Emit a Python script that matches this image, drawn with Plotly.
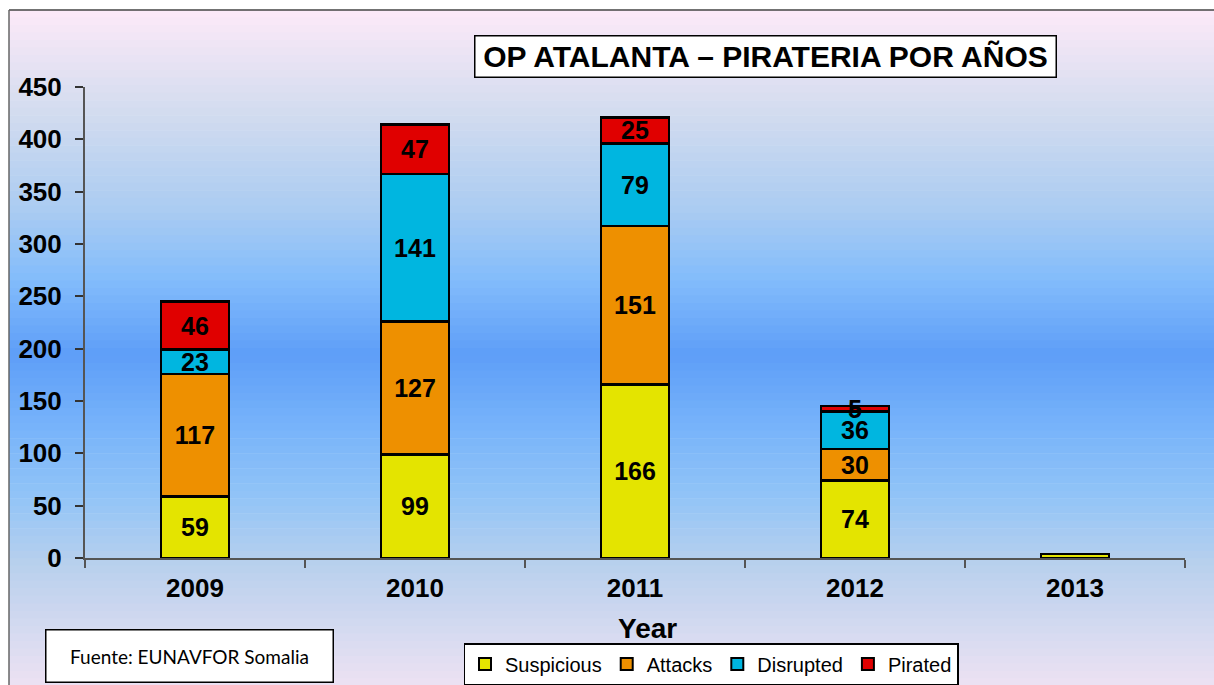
import plotly.graph_objects as go

years = ["2009", "2010", "2011", "2012", "2013"]
suspicious = [59, 99, 166, 74, 4]
attacks = [117, 127, 151, 30, None]
disrupted = [23, 141, 79, 36, None]
pirated = [46, 47, 25, 5, None]

series = [
    ("Suspicious", suspicious, "#e4e400"),
    ("Attacks", attacks, "#ee9000"),
    ("Disrupted", disrupted, "#00b6e0"),
    ("Pirated", pirated, "#e00000"),
]

# page body margin removed below, so screen px = figure px
W, H = 1214, 685
PL, PR, PT, PB = 85, 1185, 87, 558          # plot area in screen px
ML, MR, MT, MB = PL, W - PR, PT, H - PB
PW, PH = PR - PL, PB - PT


def px_x(s):
    return (s - PL) / PW


def px_y(s):
    return (PB - s) / PH


FONT = "Liberation Sans"

fig = go.Figure()
for name, vals, col in series:
    txt = [("" if (v is None or y == "2013") else str(v)) for v, y in zip(vals, years)]
    fig.add_trace(go.Bar(
        name=name, x=years, y=vals, text=txt,
        textposition="inside", insidetextanchor="middle", textangle=0,
        textfont=dict(family=FONT, size=25, color="black", weight="bold"),
        marker=dict(color=col, line=dict(color="black", width=2.5)),
        width=0.31, hoverinfo="x+y+name",
    ))

# gradient background strips
stops = [
    (0.0, (253, 233, 248)), (0.15, (211, 220, 239)), (0.3, (169, 203, 242)),
    (0.4, (130, 188, 251)), (0.51, (94, 158, 248)), (0.62, (120, 180, 250)),
    (0.72, (146, 196, 247)), (0.82, (184, 208, 237)), (1.0, (237, 226, 243)),
]


def colat(t):
    for (t0, c0), (t1, c1) in zip(stops[:-1], stops[1:]):
        if t0 <= t <= t1:
            f = (t - t0) / (t1 - t0) if t1 > t0 else 0
            return "rgb(%d,%d,%d)" % tuple(round(a + (b - a) * f) for a, b in zip(c0, c1))
    return "rgb(%d,%d,%d)" % stops[-1][1]


shapes = []
top, bot = 10, 686
n = 90
step = (bot - top) / n
for i in range(n):
    y0p = top + i * step
    y1p = y0p + step + 0.6
    t = (i + 0.5) / n
    shapes.append(dict(type="rect", xref="paper", yref="paper", layer="below",
                       x0=px_x(9), x1=px_x(1214), y0=px_y(y1p), y1=px_y(y0p),
                       fillcolor=colat(t), line=dict(width=0)))
# outer frame: top and left edges
shapes.append(dict(type="line", xref="paper", yref="paper", layer="below",
                   x0=px_x(9), x1=px_x(1214), y0=px_y(10), y1=px_y(10),
                   line=dict(color="#444", width=1.5)))
shapes.append(dict(type="line", xref="paper", yref="paper", layer="below",
                   x0=px_x(9), x1=px_x(9), y0=px_y(686), y1=px_y(10),
                   line=dict(color="#666", width=1.5)))

fig.update_layout(
    width=W, height=H, barmode="stack",
    margin=dict(l=ML, r=MR, t=MT, b=MB, autoexpand=False),
    paper_bgcolor="white", plot_bgcolor="rgba(0,0,0,0)",
    shapes=shapes,
    uniformtext=dict(minsize=25, mode="show"),
    font=dict(family=FONT, color="black"),
    showlegend=True,
    legend=dict(orientation="h", x=px_x(711), xanchor="center", y=px_y(643), yanchor="top",
                bgcolor="white", bordercolor="black", borderwidth=1.5,
                font=dict(family=FONT, size=20, color="black"),
                itemsizing="constant", traceorder="normal", itemwidth=30,
                tracegroupgap=0),
    xaxis=dict(type="category", tickson="boundaries", ticks="outside", ticklen=8,
               tickcolor="#555", tickwidth=1.5, showline=True, linecolor="#555", linewidth=2,
               tickfont=dict(family=FONT, size=26, color="black", weight="bold"),
               ticklabelstandoff=6, showgrid=False, fixedrange=True),
    yaxis=dict(range=[0, 450], tickvals=[0, 50, 100, 150, 200, 250, 300, 350, 400, 450],
               ticks="outside", ticklen=8, tickcolor="#333", tickwidth=1.5,
               showline=True, linecolor="#555", linewidth=2, showgrid=False, zeroline=False,
               tickfont=dict(family=FONT, size=26, color="black", weight="bold"),
               ticklabelstandoff=8, fixedrange=True),
    annotations=[
        dict(text="OP ATALANTA – PIRATERIA POR AÑOS", xref="paper", yref="paper",
             x=px_x(765), y=px_y(56), xanchor="center", yanchor="middle", showarrow=False,
             font=dict(family=FONT, size=30, color="black", weight="bold"),
             bgcolor="white", bordercolor="black", borderwidth=1.5, width=578, height=38),
        dict(text="Year", xref="paper", yref="paper", x=px_x(647), y=px_y(628),
             xanchor="center", yanchor="middle", showarrow=False,
             font=dict(family=FONT, size=28, color="black", weight="bold")),
        dict(text="Fuente: EUNAVFOR Somalia", xref="paper", yref="paper",
             x=px_x(189), y=px_y(656), xanchor="center", yanchor="middle", showarrow=False,
             font=dict(family="Lato", size=19, color="black"),
             bgcolor="white", bordercolor="black", borderwidth=1.5, width=284, height=49),
    ],
)

fig.write_html(
    "out.html",
    config={"displayModeBar": False},
    post_script="document.body.style.margin='0';document.body.style.overflow='hidden';",
)
